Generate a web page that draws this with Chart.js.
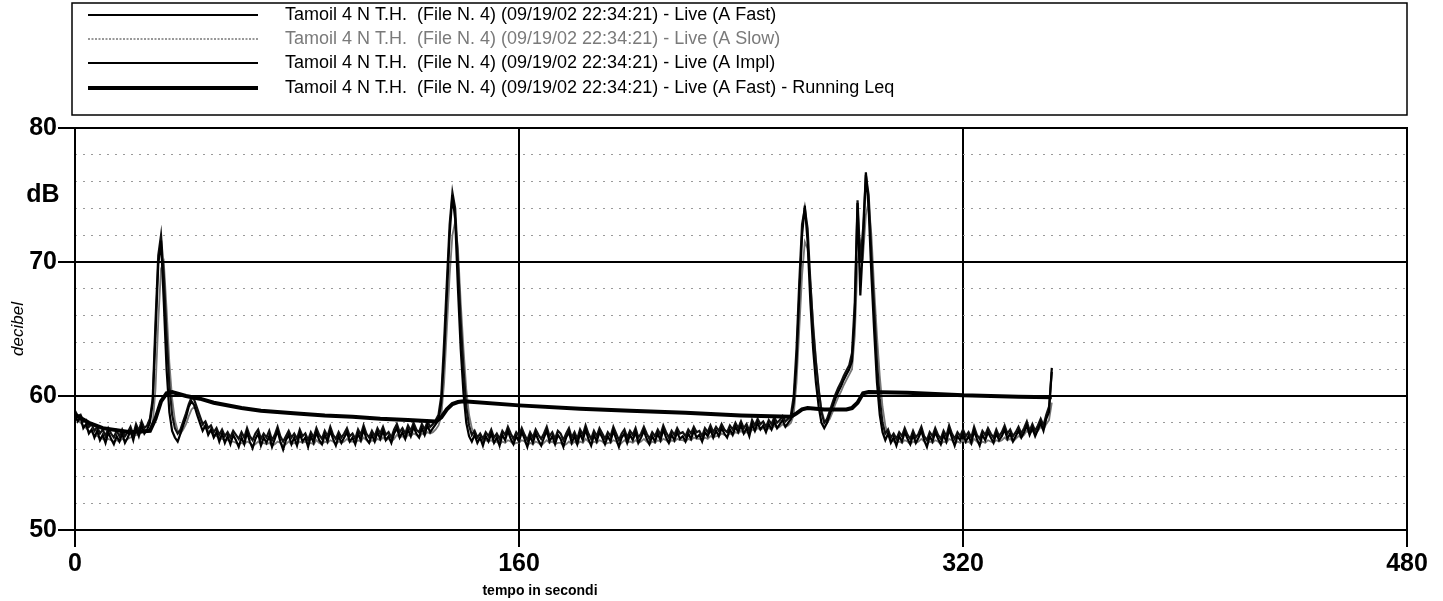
<!DOCTYPE html>
<html>
<head>
<meta charset="utf-8">
<script src="https://cdn.jsdelivr.net/npm/chart.js@4/dist/chart.umd.min.js"></script>
<style>
html,body{margin:0;padding:0;background:#fff;}
#wrap{width:1443px;height:601px;position:relative;}
</style>
</head>
<body>
<div id="wrap"><canvas id="c"></canvas></div>
<script>
// ---- DATA ----
const seriesNames = [
  "Tamoil 4 N T.H.  (File N. 4) (09/19/02 22:34:21) - Live (A Fast)",
  "Tamoil 4 N T.H.  (File N. 4) (09/19/02 22:34:21) - Live (A Slow)",
  "Tamoil 4 N T.H.  (File N. 4) (09/19/02 22:34:21) - Live (A Impl)",
  "Tamoil 4 N T.H.  (File N. 4) (09/19/02 22:34:21) - Live (A Fast) - Running Leq"
];
const yTickLabels = [50, 60, 70, 80];
const xTickLabels = [0, 160, 320, 480];
const yUnit = "dB";
const yTitle = "decibel";
const xTitle = "tempo in secondi";

// sampling: one value per second, from 0 s
const sampleStart = 0, sampleStep = 1;

const fastA = [
58.6,58.1,58.4,57.6,57.9,57.2,57.5,56.9,57.4,56.7,
57.1,56.5,57.3,56.8,56.4,57.0,56.6,57.2,56.5,56.9,
57.4,56.7,57.6,57.0,57.8,57.2,57.5,58.0,59.5,64.5,
69.8,71.6,67.0,62.0,58.8,57.4,56.9,56.6,57.2,57.8,
58.4,59.2,59.6,59.3,58.6,58.0,57.4,57.8,57.1,57.5,
56.9,57.3,56.6,57.2,56.5,57.0,56.4,57.1,56.7,56.2,
56.9,56.4,57.3,56.6,56.1,56.8,57.2,56.3,56.9,56.5,
57.0,56.2,56.8,57.4,56.6,56.0,56.7,57.1,56.4,56.9,
56.3,57.2,56.6,56.9,56.2,57.0,56.5,57.3,56.7,56.4,
57.1,56.6,57.4,56.8,56.3,57.0,56.5,56.9,57.3,56.6,
56.9,56.4,57.2,56.7,57.5,56.8,56.5,57.1,56.6,57.3,
56.8,57.4,56.7,57.0,56.5,57.2,57.6,56.9,57.3,56.8,
57.5,57.0,57.7,57.2,56.9,57.6,57.1,57.8,57.3,57.6,
57.9,58.2,59.5,63.0,67.5,72.0,75.0,73.2,68.0,63.5,
60.2,58.0,57.0,56.6,57.1,56.5,56.9,56.3,57.0,56.6,
57.2,56.5,56.9,56.3,57.1,56.7,57.4,56.8,56.4,57.0,
56.6,57.3,56.8,56.2,57.0,56.5,57.2,56.7,56.3,56.9,
57.4,56.6,57.0,56.4,57.1,56.8,56.2,56.9,57.3,56.5,
57.0,56.4,57.2,56.7,57.5,56.8,56.3,57.1,56.6,57.3,
56.9,56.4,57.0,56.6,57.4,56.8,56.2,56.9,57.2,56.5,
57.1,56.7,57.3,56.5,56.9,57.4,56.8,56.4,57.0,56.6,
57.2,56.7,57.5,56.9,56.5,57.1,56.7,57.3,56.8,57.0,
56.6,57.2,56.8,57.4,56.9,57.1,56.6,57.3,57.0,57.5,
56.9,57.4,57.0,57.6,57.2,56.9,57.5,57.1,57.7,57.3,
57.8,57.2,57.6,57.0,57.9,57.4,58.0,57.5,57.8,57.3,
57.9,57.5,58.1,57.6,57.9,58.2,57.7,58.0,58.3,59.5,
62.5,67.5,72.0,74.2,71.5,67.0,63.5,61.0,59.2,58.0,
57.6,58.0,58.6,59.2,59.8,60.3,60.7,61.2,61.6,62.0,
62.6,66.0,74.4,67.5,71.5,76.7,74.0,69.0,64.8,61.0,
58.6,57.3,56.7,57.2,56.5,56.9,56.3,57.0,56.6,57.3,
56.8,56.4,57.1,56.5,56.9,57.4,56.7,56.2,57.0,56.6,
57.3,56.8,56.4,57.1,56.6,57.5,56.9,56.3,57.0,56.7,
57.2,56.6,57.0,56.5,57.4,56.8,56.3,57.1,56.7,57.3,
56.9,56.5,57.2,56.7,57.0,57.5,56.8,57.2,56.6,57.0,
57.4,56.9,57.3,57.8,57.1,57.6,57.0,57.5,58.0,57.4,
58.3,58.8,62.1
];

const slowA = [
58.3,58.2,58.0,57.8,57.6,57.4,57.3,57.1,57.0,56.9,
56.8,56.7,56.8,56.7,56.6,56.7,56.6,56.8,56.7,56.8,
56.9,57.0,57.1,57.1,57.3,57.3,57.4,57.5,57.9,60.5,
65.5,69.5,70.0,66.5,62.5,59.8,58.2,57.4,57.2,57.5,
57.9,58.5,59.0,59.2,58.9,58.4,57.9,57.6,57.4,57.3,
57.1,57.0,56.9,56.8,56.7,56.7,56.6,56.6,56.5,56.4,
56.5,56.4,56.6,56.5,56.3,56.4,56.6,56.4,56.5,56.4,
56.5,56.3,56.4,56.6,56.5,56.3,56.4,56.6,56.4,56.5,
56.4,56.6,56.5,56.6,56.4,56.5,56.4,56.7,56.5,56.4,
56.6,56.5,56.7,56.6,56.4,56.6,56.5,56.6,56.8,56.6,
56.6,56.5,56.7,56.6,56.9,56.7,56.5,56.7,56.6,56.8,
56.7,56.9,56.7,56.8,56.6,56.8,57.1,56.9,57.0,56.8,
57.1,57.0,57.2,57.1,56.9,57.2,57.1,57.3,57.2,57.3,
57.5,57.8,58.5,61.0,65.0,69.0,72.0,73.0,71.0,67.0,
63.5,60.5,58.6,57.6,57.2,56.9,56.8,56.6,56.7,56.6,
56.7,56.5,56.6,56.4,56.6,56.5,56.7,56.6,56.4,56.5,
56.5,56.7,56.6,56.3,56.5,56.4,56.6,56.5,56.3,56.5,
56.7,56.5,56.6,56.4,56.5,56.5,56.3,56.4,56.6,56.4,
56.6,56.4,56.6,56.5,56.8,56.6,56.4,56.6,56.5,56.7,
56.6,56.4,56.5,56.5,56.7,56.6,56.3,56.5,56.7,56.5,
56.6,56.5,56.7,56.5,56.6,56.8,56.6,56.4,56.6,56.5,
56.7,56.6,56.8,56.7,56.5,56.7,56.6,56.8,56.7,56.7,
56.6,56.8,56.7,56.9,56.8,56.8,56.7,56.9,56.8,57.0,
56.9,57.0,57.0,57.2,57.1,57.0,57.2,57.1,57.3,57.2,
57.4,57.2,57.3,57.2,57.5,57.4,57.6,57.5,57.6,57.5,
57.6,57.5,57.8,57.6,57.7,57.9,57.7,57.8,58.0,58.6,
61.0,65.0,69.0,71.5,71.0,68.5,65.5,62.8,60.5,59.0,
58.2,58.0,58.3,58.8,59.4,59.9,60.3,60.8,61.2,61.6,
62.0,64.5,70.0,71.5,70.5,73.5,74.5,72.0,68.0,64.5,
61.5,59.2,57.8,57.1,56.8,56.6,56.5,56.6,56.5,56.7,
56.6,56.4,56.6,56.5,56.6,56.8,56.6,56.4,56.6,56.5,
56.7,56.6,56.4,56.6,56.5,56.8,56.7,56.4,56.6,56.5,
56.7,56.5,56.6,56.4,56.8,56.6,56.4,56.6,56.5,56.7,
56.6,56.5,56.7,56.6,56.7,56.9,56.7,56.8,56.6,56.8,
57.0,56.9,57.1,57.4,57.2,57.4,57.2,57.4,57.7,57.5,
57.9,58.2,59.5
];

const implA = [
58.9,58.5,58.6,58.1,58.2,57.7,57.9,57.4,57.7,57.2,
57.5,57.0,57.6,57.2,56.9,57.4,57.0,57.5,57.0,57.3,
57.7,57.1,57.9,57.4,58.1,57.6,57.8,58.3,59.8,65.5,
70.5,72.0,69.0,64.5,60.8,58.6,57.6,57.2,57.5,58.1,
58.7,59.4,59.9,59.7,59.1,58.5,57.9,58.1,57.6,57.8,
57.3,57.6,57.1,57.5,57.0,57.3,56.9,57.4,57.1,56.8,
57.3,56.9,57.6,57.0,56.7,57.2,57.5,56.8,57.2,56.9,
57.4,56.7,57.1,57.7,57.0,56.6,57.0,57.4,56.9,57.2,
56.8,57.5,57.0,57.2,56.7,57.3,56.9,57.6,57.1,56.8,
57.4,57.0,57.7,57.1,56.8,57.3,56.9,57.2,57.6,57.0,
57.2,56.8,57.5,57.1,57.8,57.2,56.9,57.4,57.0,57.6,
57.2,57.7,57.1,57.3,56.9,57.5,57.9,57.3,57.6,57.2,
57.8,57.4,58.0,57.5,57.3,57.9,57.5,58.1,57.7,57.9,
58.2,58.6,60.0,64.0,68.5,72.8,75.2,74.0,70.0,65.5,
62.0,59.2,57.8,57.1,57.4,56.9,57.2,56.8,57.3,57.0,
57.5,56.9,57.2,56.8,57.4,57.1,57.7,57.2,56.8,57.3,
57.0,57.6,57.1,56.7,57.3,56.9,57.5,57.1,56.8,57.2,
57.7,57.0,57.3,56.8,57.4,57.2,56.7,57.2,57.6,56.9,
57.3,56.8,57.5,57.1,57.8,57.2,56.8,57.4,57.0,57.6,
57.2,56.8,57.3,57.0,57.7,57.2,56.7,57.2,57.5,56.9,
57.4,57.1,57.6,56.9,57.2,57.7,57.2,56.8,57.3,57.0,
57.5,57.1,57.8,57.3,56.9,57.4,57.1,57.6,57.2,57.3,
57.0,57.5,57.2,57.7,57.3,57.4,57.0,57.6,57.3,57.8,
57.3,57.7,57.4,57.9,57.5,57.3,57.8,57.5,58.0,57.6,
58.1,57.6,57.9,57.4,58.2,57.8,58.3,57.9,58.1,57.7,
58.2,57.9,58.4,58.0,58.2,58.5,58.1,58.3,58.6,60.0,
63.5,68.5,72.8,74.0,72.5,68.5,65.0,62.5,60.5,58.8,
58.0,58.3,58.9,59.5,60.1,60.6,61.0,61.5,61.9,62.3,
63.2,67.0,74.6,70.0,72.5,76.5,75.0,70.5,66.5,62.5,
59.8,58.0,57.2,57.5,56.9,57.2,56.8,57.3,57.0,57.6,
57.1,56.8,57.4,56.9,57.2,57.7,57.0,56.7,57.3,57.0,
57.6,57.1,56.8,57.4,57.0,57.8,57.2,56.8,57.3,57.0,
57.5,57.0,57.3,56.9,57.7,57.1,56.8,57.4,57.1,57.6,
57.2,56.9,57.5,57.0,57.3,57.8,57.2,57.5,57.0,57.3,
57.7,57.2,57.6,58.1,57.4,57.9,57.4,57.8,58.3,57.8,
58.6,59.2,61.8
];

// Running Leq: time (s) and level (dB)
const leqT = [0,5,10,20,27,29,31,33,35,40,45,50,60,67,80,90,100,110,120,130,
  132,134,136,138,140,160,182,200,220,240,258,260,262,264,270,278,280,282,284,286,
  300,320,340,352];
const leqV = [58.6,58.0,57.6,57.3,57.4,58.3,59.6,60.2,60.3,60.0,59.8,59.5,59.1,58.9,58.7,58.55,58.45,58.3,58.2,58.1,
  58.4,59.0,59.4,59.55,59.6,59.3,59.05,58.9,58.75,58.55,58.45,58.7,59.0,59.1,59.0,59.0,59.1,59.5,60.2,60.3,
  60.25,60.05,59.95,59.9];

// ---- BUILD ----
const timeLabels = fastA.map((_, i) => sampleStart + i * sampleStep);
const leqPts = leqT.map((t, i) => ({x: t, y: leqV[i]}));

const FONT = "'Liberation Sans', Arial, sans-serif";
const legendStyles = [
  {color: '#000', width: 2, text: '#000', dash: []},
  {color: '#777', width: 1.5, text: '#7a7a7a', dash: [2, 1.5]},
  {color: '#000', width: 2.2, text: '#000', dash: []},
  {color: '#000', width: 4, text: '#000', dash: []}
];

const decor = {
  id: 'decor',
  afterDraw(chart) {
    const ctx = chart.ctx;
    const a = chart.chartArea;
    const ys = chart.scales.y;
    ctx.save();
    // plot frame
    ctx.strokeStyle = '#000';
    ctx.lineWidth = 2;
    ctx.strokeRect(a.left, a.top, a.right - a.left, a.bottom - a.top);
    // legend box
    ctx.lineWidth = 1.5;
    ctx.strokeRect(72, 3, a.right - 72, 112);
    const rows = [15, 39, 63, 88];
    ctx.font = '18px ' + FONT;
    ctx.textBaseline = 'middle';
    ctx.textAlign = 'left';
    seriesNames.forEach((name, i) => {
      const st = legendStyles[i];
      ctx.beginPath();
      ctx.setLineDash(st.dash);
      ctx.strokeStyle = st.color;
      ctx.lineWidth = st.width;
      ctx.moveTo(88, rows[i]);
      ctx.lineTo(258, rows[i]);
      ctx.stroke();
      ctx.setLineDash([]);
      ctx.fillStyle = st.text;
      ctx.fillText(name, 285, rows[i]);
    });
    // dB unit
    ctx.fillStyle = '#000';
    ctx.font = 'bold 25px ' + FONT;
    ctx.textAlign = 'center';
    ctx.fillText(yUnit, 43, ys.getPixelForValue(75));
    // y title
    ctx.save();
    ctx.translate(18, (a.top + a.bottom) / 2);
    ctx.rotate(-Math.PI / 2);
    ctx.font = 'italic 17px ' + FONT;
    ctx.fillText(yTitle, 0, 0);
    ctx.restore();
    // x title
    ctx.font = 'bold 14px ' + FONT;
    ctx.fillText(xTitle, 540, 591);
    ctx.restore();
  }
};

new Chart(document.getElementById('c'), {
  type: 'line',
  data: {
    labels: timeLabels,
    datasets: [
      {label: seriesNames[3], data: leqPts, borderColor: '#000', borderWidth: 4, pointRadius: 0, order: 0},
      {label: seriesNames[0], data: fastA, borderColor: '#000', borderWidth: 2.2, pointRadius: 0, order: 1},
      {label: seriesNames[2], data: implA, borderColor: '#111', borderWidth: 2.2, pointRadius: 0, order: 2},
      {label: seriesNames[1], data: slowA, borderColor: '#777', borderWidth: 1.8, pointRadius: 0, order: 3}
    ]
  },
  options: {
    responsive: true,
    maintainAspectRatio: false,
    animation: false,
    layout: {padding: {top: 128, right: 36, left: 0, bottom: 0}},
    plugins: {legend: {display: false}, tooltip: {enabled: false}},
    scales: {
      x: {
        type: 'linear', min: 0, max: 480,
        afterBuildTicks(s) { s.ticks = xTickLabels.map(v => ({value: v})); },
        afterFit(s) { s.height = 71; },
        ticks: {font: {family: FONT, size: 25, weight: 'bold'}, color: '#000', padding: 2, maxRotation: 0},
        grid: {color: '#000', lineWidth: 2, tickLength: 17, tickColor: '#000', tickWidth: 2},
        border: {display: false}
      },
      y: {
        type: 'linear', min: 50, max: 80, position: 'left',
        afterBuildTicks(s) { s.ticks = yTickLabels.map(v => ({value: v})); },
        afterFit(s) { s.width = 75; },
        ticks: {font: {family: FONT, size: 25, weight: 'bold'}, color: '#000', padding: 1},
        grid: {color: '#000', lineWidth: 2, tickLength: 17, tickColor: '#000', tickWidth: 2, z: 1},
        border: {display: false}
      },
      yMinor: {
        type: 'linear', min: 50, max: 80, position: 'left',
        ticks: {display: false, stepSize: 2},
        afterFit(s) { s.width = 0; },
        grid: {color: '#9a9a9a', lineWidth: 1, drawTicks: false},
        border: {display: false, dash: [2, 6]}
      }
    }
  },
  plugins: [decor]
});
</script>
</body>
</html>
